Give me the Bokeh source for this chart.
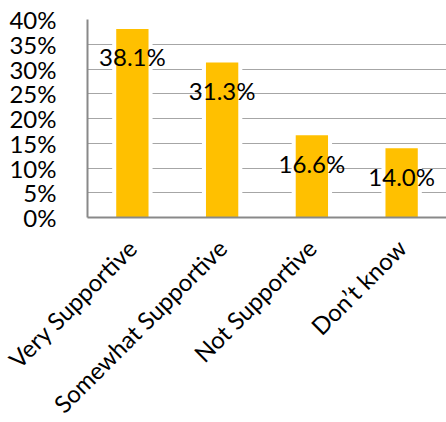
import math
from bokeh.plotting import figure
from bokeh.models import FactorRange, Range1d, FixedTicker, NumeralTickFormatter, ColumnDataSource
from bokeh.core.properties import value
from bokeh.embed import file_html
from bokeh.resources import INLINE

categories = ["Very Supportive", "Somewhat Supportive", "Not Supportive", "Don\u2019t know"]
shares = [0.381, 0.313, 0.166, 0.140]
y_ticks = [0.0, 0.05, 0.10, 0.15, 0.20, 0.25, 0.30, 0.35, 0.40]

labels = [f"{v * 100:.1f}%" for v in shares]
src = ColumnDataSource(dict(cat=categories, val=shares, lab=labels))

FONT = "Lato"
BAR = "#FFC000"
GRID = "#a6a6a6"
AXIS = "#898989"

p = figure(frame_width=359, frame_height=198, x_range=FactorRange(*categories, range_padding=0),
           y_range=Range1d(0, 0.40), output_backend="svg", toolbar_location=None,
           min_border_left=87, min_border_right=0, min_border_top=19, min_border_bottom=0)
p.outline_line_color = None
p.background_fill_color = "white"
p.border_fill_color = "white"

p.xgrid.grid_line_color = None
p.ygrid.grid_line_color = GRID
p.ygrid.grid_line_width = 1.2
p.yaxis.ticker = FixedTicker(ticks=y_ticks)
p.yaxis.formatter = NumeralTickFormatter(format="0%")

for ax in (p.xaxis, p.yaxis):
    ax.axis_line_color = AXIS
    ax.axis_line_width = 2
    ax.major_tick_line_color = None
    ax.minor_tick_line_color = None
    ax.major_label_text_font = FONT
    ax.major_label_text_color = "#000000"

p.yaxis.major_label_text_font_size = "24px"
p.xaxis.major_label_text_font_size = "24px"
p.yaxis.major_label_standoff = 25
p.xaxis.major_label_orientation = math.pi / 4
p.xaxis.major_label_standoff = 20

# white halo behind bars (cuts gridlines)
p.vbar(x="cat", top="val", width=0.45, source=src, fill_color="white", line_color=None)
p.vbar(x="cat", top="val", width=0.36, source=src, fill_color=BAR, line_color=None)

p.text(x="cat", y="val", text="lab", source=src, text_align="center", text_baseline="middle",
       y_offset=28, text_font=value(FONT), text_font_size="24px", text_color="#000000")

open("out.html", "w").write(file_html(p, INLINE))
